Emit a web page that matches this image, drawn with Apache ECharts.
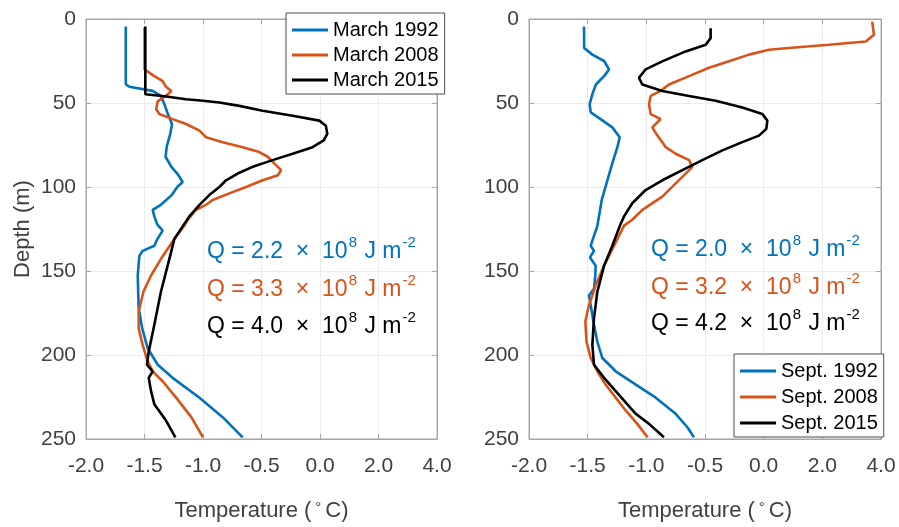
<!DOCTYPE html>
<html>
<head>
<meta charset="utf-8">
<script src="https://cdn.jsdelivr.net/npm/echarts@6/dist/echarts.min.js"></script>
<style>
html,body{margin:0;padding:0;background:#fff;}
#chart{width:899px;height:527px;}
</style>
</head>
<body>
<div id="chart"></div>
<script>
// ---- data: [temperature (°C), depth (m)] ----
var march1992 = [[-1.66,4.5],[-1.66,20],[-1.66,39],[-1.63,40.3],[-1.43,42.8],[-1.36,45.8],[-1.33,50.7],[-1.30,56.6],[-1.265,62.5],[-1.28,68.4],[-1.31,76],[-1.32,82],[-1.27,88],[-1.22,92],[-1.174,97],[-1.22,100],[-1.27,105],[-1.36,110.6],[-1.43,113.6],[-1.416,117.5],[-1.39,122.4],[-1.345,126],[-1.39,131],[-1.416,135],[-1.516,138],[-1.544,141],[-1.558,152.7],[-1.55,172],[-1.52,184],[-1.473,196],[-1.387,205.8],[-1.26,213.6],[-1.03,225.4],[-0.832,237],[-0.661,249]];
var march2008 = [[-1.50,5],[-1.50,30],[-1.487,31],[-1.416,34],[-1.345,37],[-1.32,40],[-1.27,43],[-1.32,45.8],[-1.387,49],[-1.40,53.7],[-1.373,56.6],[-1.26,59.6],[-1.145,62.5],[-1.03,66.4],[-0.974,70.4],[-0.832,73.3],[-0.661,76.3],[-0.519,79.2],[-0.447,82],[-0.376,87],[-0.333,90],[-0.36,93],[-0.49,96],[-0.632,100],[-0.775,103.8],[-0.917,107.7],[-0.974,110.6],[-1.06,113.6],[-1.13,119.5],[-1.16,123],[-1.245,131],[-1.36,142.9],[-1.444,152.7],[-1.51,162.5],[-1.55,174.3],[-1.55,184],[-1.516,194],[-1.473,203.8],[-1.43,209.7],[-1.345,215.6],[-1.23,225.4],[-1.10,237],[-1.0,249]];
var march2015 = [[-1.493,4.5],[-1.493,44.8],[-1.33,46],[-1.145,47.8],[-1.0,48.7],[-0.86,49.7],[-0.69,51.7],[-0.49,54.6],[-0.234,57.6],[-0.006,60.5],[0.2,63.5],[0.25,68.4],[0.126,72.3],[-0.063,76.3],[-0.234,80.2],[-0.405,84],[-0.575,88],[-0.704,92],[-0.803,96],[-0.86,100],[-0.946,104.8],[-1.03,110.6],[-1.117,117.5],[-1.17,123],[-1.245,131],[-1.288,142.9],[-1.36,162.5],[-1.416,182],[-1.464,198],[-1.479,205.8],[-1.43,209.7],[-1.464,213.6],[-1.444,221.5],[-1.416,229.3],[-1.316,239],[-1.236,249]];
var sept1992 = [[-1.531,4.5],[-1.53,17.3],[-1.46,21.2],[-1.36,25],[-1.318,30],[-1.36,34],[-1.43,39],[-1.46,44.8],[-1.483,50.7],[-1.474,55.6],[-1.39,59.6],[-1.29,64.5],[-1.227,70.4],[-1.247,76.3],[-1.29,86],[-1.332,96],[-1.38,107.7],[-1.418,123.4],[-1.446,129],[-1.474,135],[-1.446,138],[-1.48,141.9],[-1.432,146.8],[-1.435,152.7],[-1.446,160.6],[-1.489,164.5],[-1.474,170.4],[-1.446,182.2],[-1.418,192],[-1.375,201.8],[-1.261,209.7],[-1.09,217.6],[-0.92,225.4],[-0.75,235],[-0.65,243],[-0.594,249]];
var sept2008 = [[3.70,1.6],[3.76,9.4],[3.48,13.4],[2.23,15.3],[0.86,17.3],[0.18,18.3],[-0.125,21.2],[-0.295,25.2],[-0.466,29],[-0.636,34],[-0.807,39],[-0.878,42.8],[-0.963,45.8],[-0.977,50.7],[-0.963,56.6],[-0.878,59.6],[-0.949,64.5],[-0.906,69.4],[-0.864,73.3],[-0.835,76.3],[-0.75,80.2],[-0.636,84],[-0.608,88],[-0.693,94],[-0.778,99.8],[-0.864,105.7],[-1.034,113.6],[-1.12,119.5],[-1.19,123],[-1.276,135],[-1.36,146.8],[-1.432,158.6],[-1.489,170.4],[-1.52,180],[-1.51,192],[-1.474,201.8],[-1.418,209.7],[-1.347,217.6],[-1.261,225.4],[-1.176,233],[-1.077,241],[-0.99,249]];
var sept2015 = [[-0.452,5.5],[-0.452,11.4],[-0.494,15.3],[-0.665,19.3],[-0.864,25.2],[-1.006,30],[-1.0625,35],[-1.034,39],[-0.864,42.8],[-0.636,45.8],[-0.409,48.7],[-0.182,52.7],[-0.011,56.6],[0.125,60.5],[0.09,65.4],[-0.04,69.4],[-0.182,73.3],[-0.352,78.2],[-0.523,84],[-0.693,90],[-0.864,96],[-1.006,101.8],[-1.12,109.7],[-1.19,117.5],[-1.225,123],[-1.29,135],[-1.36,146.8],[-1.418,162.5],[-1.446,178],[-1.46,194],[-1.446,205.8],[-1.36,213.6],[-1.261,221.5],[-1.162,229.4],[-1.09,235],[-0.977,241],[-0.85,249]];

var leftNames = ['March 1992','March 2008','March 2015'];
var rightNames = ['Sept. 1992','Sept. 2008','Sept. 2015'];
var leftQ = ['2.2','3.3','4.0'];
var rightQ = ['2.0','3.2','4.2'];
var xTickValues = [-2.0,-1.5,-1.0,-0.5,0.0,2.0,4.0];

var colors = ['#0072BD','#D95319','#000000'];
var FONT = 'Liberation Sans, Arial, Helvetica, sans-serif';

// piecewise temperature axis: -2..0 in steps of 0.5, then 0..4 in steps of 2
function toAxis(t){ return t <= 0 ? t : t / 4; }
function fromAxis(v){ return v <= 0 ? v : v * 4; }
function mapSeries(arr){ return arr.map(function(p){ return [toAxis(p[0]), p[1]]; }); }

var axisColor = '#a6a6a6';
function xAxes(gi){
  return [{
    gridIndex: gi, type: 'value', min: toAxis(xTickValues[0]), max: toAxis(xTickValues[6]), interval: 0.5,
    position: 'bottom',
    axisLine: {show: true, onZero: false, lineStyle: {color: axisColor, width: 1}},
    axisTick: {show: true, inside: true, length: 5, lineStyle: {color: axisColor}},
    axisLabel: {fontSize: 21, color: '#404040', fontFamily: FONT, margin: 17,
      formatter: function(v){ return fromAxis(v).toFixed(1); }},
    splitLine: {show: true, lineStyle: {color: '#ececec', width: 1}},
    name: 'Temperature ({d|°}C)', nameLocation: 'middle', nameGap: 61,
    nameTextStyle: {fontSize: 22, color: '#404040', fontFamily: FONT,
      rich: {d: {fontSize: 15, color: '#404040', fontFamily: FONT, verticalAlign: 'top', padding: [0,4,0,4]}}}
  },{
    gridIndex: gi, type: 'value', min: -2, max: 1, interval: 0.5, position: 'top',
    axisLine: {show: true, onZero: false, lineStyle: {color: axisColor}},
    axisTick: {show: true, inside: true, length: 5, lineStyle: {color: axisColor}},
    axisLabel: {show: false}, splitLine: {show: false}
  }];
}
function yAxes(gi, withName){
  var a = {
    gridIndex: gi, type: 'value', min: 0, max: 250, interval: 50, inverse: true, position: 'left',
    axisLine: {show: true, onZero: false, lineStyle: {color: axisColor}},
    axisTick: {show: true, inside: true, length: 5, lineStyle: {color: axisColor}},
    axisLabel: {fontSize: 21, color: '#404040', fontFamily: FONT, margin: 10},
    splitLine: {show: true, lineStyle: {color: '#ececec', width: 1}}
  };
  if (withName){
    a.name = 'Depth (m)'; a.nameLocation = 'middle'; a.nameGap = 52;
    a.nameTextStyle = {fontSize: 22, color: '#404040', fontFamily: FONT};
  }
  return [a, {
    gridIndex: gi, type: 'value', min: 0, max: 250, interval: 50, inverse: true, position: 'right',
    axisLine: {show: true, onZero: false, lineStyle: {color: axisColor}},
    axisTick: {show: true, inside: true, length: 5, lineStyle: {color: axisColor}},
    axisLabel: {show: false}, splitLine: {show: false}
  }];
}

function line(name, data, color, gi){
  return {
    name: name, type: 'line', data: mapSeries(data),
    xAxisIndex: gi * 2, yAxisIndex: gi * 2,
    showSymbol: false, symbol: 'none', smooth: false, animation: false,
    lineStyle: {color: color, width: 2.6}, itemStyle: {color: color}, z: 3
  };
}

function qText(x, y, val, color){
  return {
    type: 'text', x: x, y: y, z: 10,
    style: {
      text: '{a|Q = ' + val + '  ×  10}{s|8}{a| J m}{s|-2}',
      verticalAlign: 'middle',
      rich: {
        a: {fontSize: 23, fill: color, fontFamily: FONT, lineHeight: 34},
        s: {fontSize: 15, fill: color, fontFamily: FONT, verticalAlign: 'top', lineHeight: 15, padding: [0, 1, 0, 1]}
      }
    }
  };
}

var chart = echarts.init(document.getElementById('chart'), null, {renderer: 'canvas'});
var legendCommon = {
  orient: 'vertical', icon: 'rect', itemWidth: 36, itemHeight: 3, itemGap: 5,
  backgroundColor: '#fff', borderColor: '#4d4d4d', borderWidth: 1,
  textStyle: {fontSize: 20, color: '#000', fontFamily: FONT},
  selectedMode: false
};
chart.setOption({
  backgroundColor: '#fff',
  animation: false,
  grid: [
    {left: 86, top: 19, width: 351, height: 424, show: true, borderColor: axisColor, borderWidth: 1, backgroundColor: 'transparent'},
    {left: 529, top: 19, width: 352, height: 424, show: true, borderColor: axisColor, borderWidth: 1, backgroundColor: 'transparent'}
  ],
  xAxis: xAxes(0).concat(xAxes(1)),
  yAxis: yAxes(0, true).concat(yAxes(1, false)),
  legend: [
    Object.assign({}, legendCommon, {data: leftNames, left: 286, top: 13, padding: [7, 6, 4, 6]}),
    Object.assign({}, legendCommon, {data: rightNames, left: 734, top: 354, padding: [7, 6, 4, 6], itemGap: 6})
  ],
  series: [
    line(leftNames[0], march1992, colors[0], 0),
    line(leftNames[1], march2008, colors[1], 0),
    line(leftNames[2], march2015, colors[2], 0),
    line(rightNames[0], sept1992, colors[0], 1),
    line(rightNames[1], sept2008, colors[1], 1),
    line(rightNames[2], sept2015, colors[2], 1)
  ],
  graphic: [
    qText(207, 252, leftQ[0], colors[0]),
    qText(207, 290, leftQ[1], colors[1]),
    qText(207, 327, leftQ[2], colors[2]),
    qText(651, 250, rightQ[0], colors[0]),
    qText(651, 288, rightQ[1], colors[1]),
    qText(651, 324, rightQ[2], colors[2])
  ]
});
</script>
</body>
</html>
